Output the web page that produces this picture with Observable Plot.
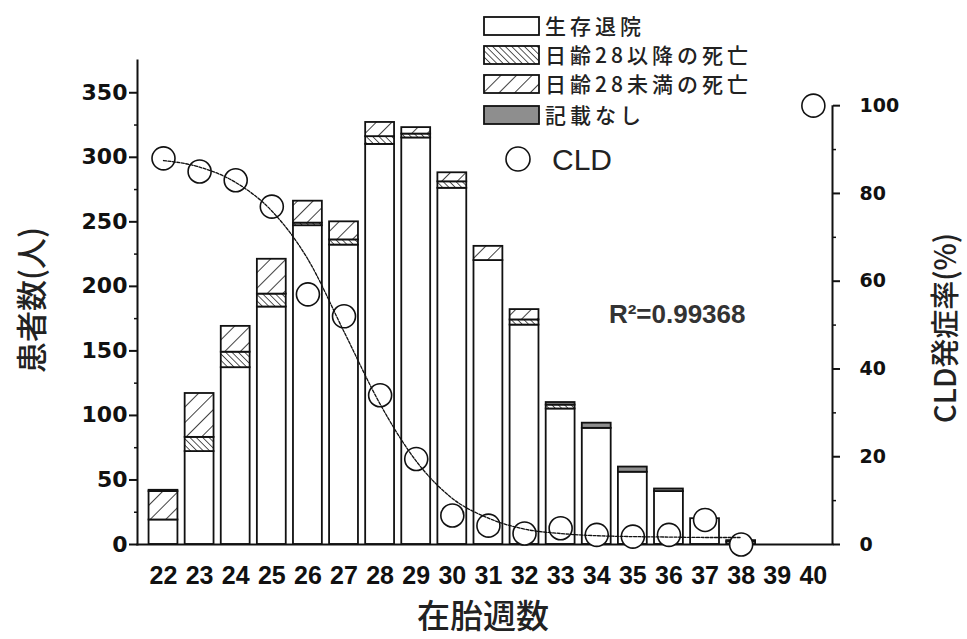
<!DOCTYPE html>
<html>
<head>
<meta charset="utf-8">
<script src="https://cdn.jsdelivr.net/npm/d3@7"></script>
<script src="https://cdn.jsdelivr.net/npm/@observablehq/plot@0.6"></script>
<style>
  body { margin: 0; background: #fff; }
  #chart svg { display: block; }
</style>
</head>
<body>
<div id="chart"></div>
<script>
// Gestational week of each bar
const weeks = [22, 23, 24, 25, 26, 27, 28, 29, 30, 31, 32, 33, 34, 35, 36, 37, 38, 39, 40];
// Patients per outcome, stacked bottom to top in this order
const survived     = [19, 72, 137, 184, 247, 232, 310, 315, 276, 220, 170, 105, 90, 56, 41, 20, 2, 0, 0];
const diedAfter28  = [0, 11, 12, 10, 2, 4, 6, 3, 5, 0, 4, 3, 0, 0, 0, 0, 0, 0, 0];
const diedBefore28 = [22, 34, 20, 27, 17, 14, 11, 5, 7, 11, 8, 0, 0, 0, 0, 0, 0, 0, 0];
const unrecorded   = [1, 0, 0, 0, 0, 0, 0, 0, 0, 0, 0, 2, 4, 4, 2, 0, 1, 0, 0];
const categories = ["生存退院", "日齢28以降の死亡", "日齢28未満の死亡", "記載なし"];

// CLD incidence (%) by week
const cldWeeks = [22, 23, 24, 25, 26, 27, 28, 29, 30, 31, 32, 33, 34, 35, 36, 37, 38, 40];
const cldRate  = [88, 85, 83, 77, 57, 52, 34, 19.5, 6.6, 4.3, 2.5, 3.7, 2.2, 1.8, 2.2, 5.6, 0, 100];
// Fitted curve through the CLD incidence
const fitWeeks = [22, 23, 24, 25, 26, 27, 28, 29, 30, 31, 32, 33, 34, 35, 36, 37, 38];
const fitRate  = [87.5, 86, 82.5, 76, 65, 48.5, 32, 19, 10.5, 6, 3.5, 2.5, 2, 1.8, 1.7, 1.6, 1.6];
const fitLabel = "R²=0.99368";

const countTicks = [0, 50, 100, 150, 200, 250, 300, 350];
const countMinor = [25, 75, 125, 175, 225, 275, 325];
const rateTicks = [0, 20, 40, 60, 80, 100];
const rateMinor = [10, 30, 50, 70, 90];

// The rate axis shares the count scale: 100% sits at 340 patients
const rateToCount = 3.4;
const xDomain = [21.28, 40.53];

const fills = {
  "生存退院": "white",
  "日齢28以降の死亡": "url(#hatch-back)",
  "日齢28未満の死亡": "url(#hatch-fwd)",
  "記載なし": "#8e8e8e"
};

// Build stacked segments from the outcome arrays
const seriesList = [survived, diedAfter28, diedBefore28, unrecorded];
const segments = [];
weeks.forEach((w, i) => {
  let base = 0;
  seriesList.forEach((s, k) => {
    const n = s[i];
    if (n > 0) segments.push({week: w, cat: categories[k], y1: base, y2: base + n});
    base += n;
  });
});
const cld = cldWeeks.map((w, i) => ({week: w, rate: cldRate[i]}));
const fit = fitWeeks.map((w, i) => ({week: w, rate: fitRate[i]}));

const tickFont = "'DejaVu Sans', sans-serif";
const ink = "#111";

const chart = Plot.plot({
  width: 967,
  height: 639,
  marginLeft: 137,
  marginRight: 135,
  marginTop: 60,
  marginBottom: 95,
  x: {domain: xDomain, axis: null},
  y: {domain: [0, 375], axis: null},
  style: {background: "white", color: ink},
  marks: [
    Plot.rect(segments, {
      x1: d => d.week - 0.4,
      x2: d => d.week + 0.4,
      y1: "y1",
      y2: "y2",
      fill: d => fills[d.cat],
      stroke: ink,
      strokeWidth: 1.8
    }),
    // axis lines
    Plot.frame({anchor: "left", stroke: ink, strokeWidth: 2}),
    Plot.frame({anchor: "bottom", stroke: ink, strokeWidth: 2}),
    Plot.ruleX([xDomain[1]], {y1: 0, y2: 100 * rateToCount, stroke: ink, strokeWidth: 2}),
    // left count axis
    Plot.axisY(countTicks, {
      anchor: "left", label: null, tickSize: 8, tickPadding: 2, strokeWidth: 2,
      fontSize: 22, fontWeight: "bold", fontFamily: tickFont
    }),
    Plot.axisY(countMinor, {anchor: "left", label: null, tickSize: 3, tickFormat: () => "", strokeWidth: 1.5}),
    // right rate axis
    Plot.axisY(rateTicks.map(v => v * rateToCount), {
      anchor: "right", label: null, tickSize: 7, tickPadding: 20, strokeWidth: 2,
      tickFormat: v => String(Math.round(v / rateToCount)),
      fontSize: 19, fontWeight: "bold", fontFamily: tickFont
    }),
    Plot.axisY(rateMinor.map(v => v * rateToCount), {anchor: "right", label: null, tickSize: 3, tickFormat: () => "", strokeWidth: 1.5}),
    // week axis
    Plot.axisX(weeks, {
      anchor: "bottom", label: null, tickSize: 0, tickPadding: 22,
      fontSize: 25, fontWeight: "bold", fontFamily: "'Liberation Sans', sans-serif"
    }),
    // CLD incidence
    Plot.dot(cld, {x: "week", y: d => d.rate * rateToCount, r: 11.5, fill: "white", stroke: ink, strokeWidth: 1.6}),
    Plot.line(fit, {
      x: "week", y: d => d.rate * rateToCount, curve: "monotone-x",
      stroke: ink, strokeWidth: 1.3, strokeDasharray: "3,1.5"
    }),
    Plot.text([fitLabel], {
      frameAnchor: "top-right", dx: -87, dy: 244, textAnchor: "end",
      fontSize: 26, fontWeight: "bold", fontFamily: "'Liberation Sans Narrow', 'Liberation Sans', sans-serif",
      fill: "#333"
    })
  ]
});

document.getElementById("chart").appendChild(chart);

// hatch patterns used by the death segments
const svg = d3.select(chart);
const defs = svg.insert("defs", ":first-child");
function hatch(id, spacing, angle, width) {
  const p = defs.append("pattern")
    .attr("id", id)
    .attr("patternUnits", "userSpaceOnUse")
    .attr("width", spacing)
    .attr("height", spacing)
    .attr("patternTransform", `rotate(${angle})`);
  p.append("rect").attr("width", spacing).attr("height", spacing).attr("fill", "white");
  p.append("line").attr("x1", 0).attr("y1", 0).attr("x2", 0).attr("y2", spacing)
    .attr("stroke", ink).attr("stroke-width", width);
}
hatch("hatch-fwd", 11, 45, 1.6);
hatch("hatch-back", 4.5, -45, 1.4);

// legend
const legend = svg.append("g")
  .attr("font-family", "'Noto Sans CJK JP', sans-serif")
  .attr("text-anchor", "start");
const rowY = [26, 55, 84, 115];
categories.forEach((c, i) => {
  legend.append("rect")
    .attr("x", 484).attr("y", rowY[i] - 9).attr("width", 55).attr("height", 18)
    .attr("fill", fills[c]).attr("stroke", ink).attr("stroke-width", 1.8);
  legend.append("text")
    .attr("x", 545).attr("y", rowY[i]).attr("dy", "0.36em")
    .attr("font-size", 21).attr("font-weight", 500).attr("letter-spacing", 4)
    .attr("fill", "#222").text(c);
});
legend.append("circle").attr("cx", 518).attr("cy", 159).attr("r", 12)
  .attr("fill", "white").attr("stroke", ink).attr("stroke-width", 1.6);
legend.append("text").attr("x", 552).attr("y", 159).attr("dy", "0.36em")
  .attr("font-family", "'Liberation Sans', sans-serif").attr("font-size", 30)
  .attr("fill", "#222").text("CLD");

// axis titles
const titles = svg.append("g").attr("font-family", "'Noto Sans CJK JP', sans-serif").attr("fill", "#222");
titles.append("text").attr("transform", "translate(32,300) rotate(-90)")
  .attr("text-anchor", "middle").attr("dy", "0.36em").attr("font-size", 31).attr("font-weight", 500)
  .text("患者数(人)");
titles.append("text").attr("transform", "translate(946,328) rotate(-90)")
  .attr("text-anchor", "middle").attr("dy", "0.36em").attr("font-size", 29).attr("font-weight", 500)
  .text("CLD発症率(%)");
titles.append("text").attr("x", 483).attr("y", 628)
  .attr("text-anchor", "middle").attr("font-size", 33).attr("font-weight", 500)
  .text("在胎週数");
</script>
</body>
</html>
